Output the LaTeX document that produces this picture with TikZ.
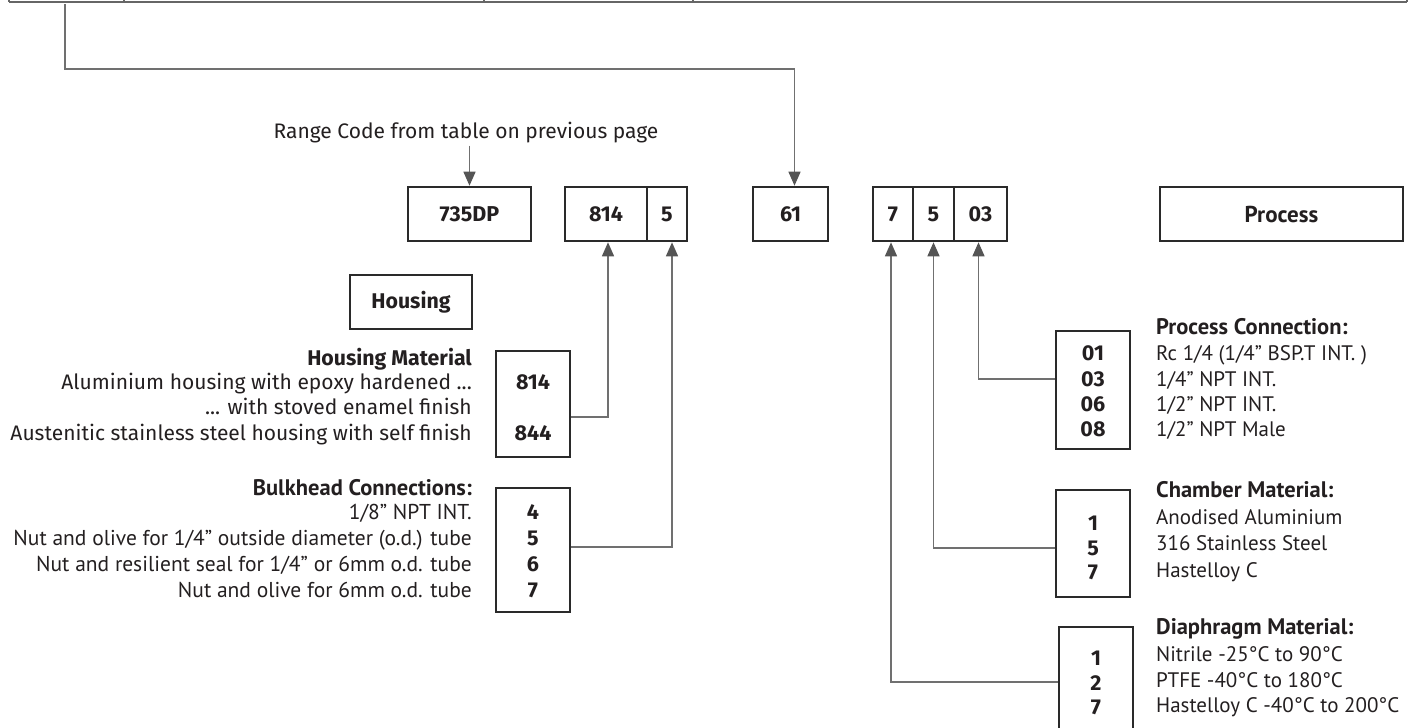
\documentclass[tikz,border=0pt]{standalone}
\usepackage{fontspec}
\setmainfont{PT Sans}
\newfontfamily\fira{Fira Sans}
\usetikzlibrary{arrows.meta}
\definecolor{boxc}{HTML}{2A2A2A}
\definecolor{linec}{HTML}{707070}
\definecolor{arrc}{HTML}{555555}
\definecolor{txtc}{HTML}{231F20}
\tikzset{
  codebox/.style={draw=boxc, line width=2.6pt, inner sep=0pt},
  num/.style={inner sep=0pt, text=txtc, font=\fira\bfseries\fontsize{21.5}{24}\selectfont},
  procnum/.style={inner sep=0pt, text=txtc, font=\bfseries\fontsize{23}{26}\selectfont},
  conn/.style={draw=linec, line width=1.4pt},
  arr/.style={conn, -{Triangle[length=14pt,width=12pt,color=arrc]}},
  tabline/.style={draw=black!60, line width=1.4pt},
  ftext/.style={inner sep=0pt, text=txtc, font=\fira\fontsize{21}{24}\selectfont},
  ptext/.style={inner sep=0pt, text=txtc, font=\fontsize{21.5}{24}\selectfont},
  rtext/.style={inner sep=0pt, text=txtc, font=\fontsize{21}{24}\selectfont},
  ftitle/.style={inner sep=0pt, text=txtc, font=\fira\bfseries\fontsize{21.3}{24}\selectfont},
  ptitle/.style={inner sep=0pt, text=txtc, font=\bfseries\fontsize{22.5}{24}\selectfont},
}
\begin{document}
\begin{tikzpicture}[x=1pt,y=-1pt]
\useasboundingbox (0,0) rectangle (1416,728);
% table edge at top
\draw[tabline] (9,2) -- (1407,2);
\foreach \x in {9,124,484,693,1407} \draw[tabline] (\x,0) -- (\x,2);

% code row
\node[codebox, minimum width=123pt, minimum height=54pt] (d735) at (469.5,214) {};
\node[num] (t735) at (d735) {735DP};
\node[codebox, minimum width=82pt, minimum height=54pt] (c814) at (606,214) {};
\node[num] (t814) at (c814) {814};
\node[codebox, minimum width=40pt, minimum height=54pt] (c5a) at (667,214) {};
\node[num] (t5a) at (c5a) {5};
\node[codebox, minimum width=75pt, minimum height=54pt] (c61) at (790.5,214) {};
\node[num] (t61) at (c61) {61};
\node[codebox, minimum width=40pt, minimum height=54pt] (c7) at (893,214) {};
\node[num] (t7) at (c7) {7};
\node[codebox, minimum width=41pt, minimum height=54pt] (c5b) at (933.5,214) {};
\node[num] (t5b) at (c5b) {5};
\node[codebox, minimum width=53pt, minimum height=54pt] (c03) at (980.5,214) {};
\node[num] (t03) at (c03) {03};
\node[codebox, minimum width=243pt, minimum height=54pt] (proc) at (1281.5,214) {};
\node[procnum] (tproc) at (proc) {Process};

% range code
\coordinate (tab) at (65,4);
\coordinate (rl) at (65,69);
\draw[arr] (tab) -- (rl) -| ([xshift=4pt]c61.north);
\node[ftext] (rc) at (466,133) {Range Code from table on previous page};
\draw[arr] ([yshift=-2pt]rc.south -| d735.north) -- (d735.north);

% housing
\node[codebox, minimum width=122pt, minimum height=54pt] (housing) at (411,302) {};
\node[ftitle] (thousing) at (housing) {Housing};

\node[ftitle, anchor=base east] (hmt) at (472,365.5) {Housing Material};
\node[ftext, anchor=base east] (hm1) at (472,389.5) {Aluminium housing with epoxy hardened ...};
\node[ftext, anchor=base east] (hm2) at (472,414.5) {... with stoved enamel finish};
\node[ftext, anchor=base east] (hm3) at (472,440.5) {Austenitic stainless steel housing with self finish};
\node[codebox, minimum width=74pt, minimum height=106pt] (hmbox) at (533,404) {};
\node[num] (n814) at (533,382) {814};
\node[num] (n844) at (533,433) {844};
\draw[arr] ([yshift=-13pt]hmbox.east) -| ([xshift=2pt]c814.south);

% bulkhead
\node[ptitle, anchor=base east] (bht) at (472,495.5) {Bulkhead Connections:};
\node[ptext, anchor=base east] (bh1) at (472,519.5) {1/8” NPT INT.};
\node[ptext, anchor=base east] (bh2) at (472,545.5) {Nut and olive for 1/4” outside diameter (o.d.) tube};
\node[ptext, anchor=base east] (bh3) at (472,571.5) {Nut and resilient seal for 1/4” or 6mm o.d. tube};
\node[ptext, anchor=base east] (bh4) at (472,597.5) {Nut and olive for 6mm o.d. tube};
\node[codebox, minimum width=74pt, minimum height=124pt] (bhbox) at (533,550) {};
\node[num] (n4) at (533,512) {4};
\node[num] (n5) at (533,538) {5};
\node[num] (n6) at (533,564) {6};
\node[num] (n7) at (533,590) {7};
\draw[arr] ([yshift=3pt]bhbox.east) -| ([xshift=5pt]c5a.south);

% process connection
\node[ptitle, anchor=base west] (pct) at (1156,334.5) {Process Connection:};
\node[rtext, anchor=base west] (pc1) at (1156,360.5) {Rc 1/4 (1/4” BSP.T INT. )};
\node[rtext, anchor=base west] (pc2) at (1156,386.5) {1/4” NPT INT.};
\node[rtext, anchor=base west] (pc3) at (1156,411.5) {1/2” NPT INT.};
\node[rtext, anchor=base west] (pc4) at (1156,436.5) {1/2” NPT Male};
\node[codebox, minimum width=74pt, minimum height=118pt] (pcbox) at (1093,390) {};
\node[num] (p01) at (1093,353) {01};
\node[num] (p03) at (1093,379) {03};
\node[num] (p06) at (1093,404) {06};
\node[num] (p08) at (1093,429) {08};
\draw[arr] ([yshift=11pt]pcbox.west) -| ([xshift=-2pt]c03.south);

% chamber material
\node[ptitle, anchor=base west] (cmt) at (1156,497.5) {Chamber Material:};
\node[rtext, anchor=base west] (cm1) at (1156,524.5) {Anodised Aluminium};
\node[rtext, anchor=base west] (cm2) at (1156,550.5) {316 Stainless Steel};
\node[rtext, anchor=base west] (cm3) at (1156,577) {Hastelloy C};
\node[codebox, minimum width=74pt, minimum height=107pt] (cmbox) at (1093,543.5) {};
\node[num] (m1) at (1093,523) {1};
\node[num] (m5) at (1093,548) {5};
\node[num] (m7) at (1093,572) {7};
\draw[arr] ([yshift=-4.5pt]cmbox.west) -| (c5b.south);

% diaphragm material
\node[ptitle, anchor=base west] (dmt) at (1156,634.5) {Diaphragm Material:};
\node[rtext, anchor=base west] (dm1) at (1156,661) {Nitrile -25°C to 90°C};
\node[rtext, anchor=base west] (dm2) at (1156,687) {PTFE -40°C to 180°C};
\node[rtext, anchor=base west] (dm3) at (1156,712) {Hastelloy C -40°C to 200°C};
\node[codebox, minimum width=74pt, minimum height=113pt] (dmbox) at (1096,683.5) {};
\node[num] (d1) at (1096,658) {1};
\node[num] (d2) at (1096,683) {2};
\node[num] (d7) at (1096,707) {7};
\draw[arr] ([yshift=1.5pt]dmbox.west) -| ([xshift=-2pt]c7.south);
\end{tikzpicture}
\end{document}
